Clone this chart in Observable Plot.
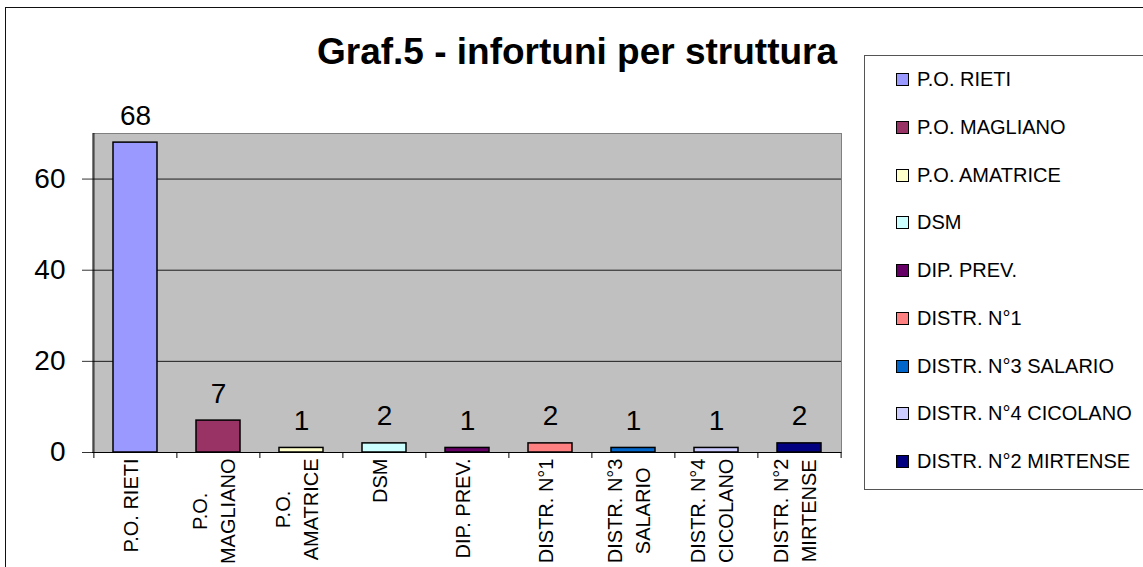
<!DOCTYPE html>
<html><head><meta charset="utf-8">
<script src="https://cdn.jsdelivr.net/npm/d3@7"></script>
<script src="https://cdn.jsdelivr.net/npm/@observablehq/plot@0.6"></script>
<style>
html,body{margin:0;padding:0;background:#fff;}
#wrap{position:relative;width:1143px;height:567px;overflow:hidden;font-family:"Liberation Sans",Arial,sans-serif;color:#000;}
#border{position:absolute;left:5px;top:7px;width:1300px;height:800px;border:1.5px solid #111;box-sizing:border-box;}
#title{position:absolute;top:33px;left:577px;transform:translateX(-50%);font-weight:bold;font-size:37px;line-height:1;white-space:nowrap;}
#chart{position:absolute;left:0;top:0;}
#legend{position:absolute;left:864px;top:55px;width:400px;height:435px;border:1.5px solid #555;box-sizing:border-box;background:#fff;}
.item{position:absolute;left:31px;height:20px;display:flex;align-items:center;font-size:20px;white-space:nowrap;}
.sw{width:11px;height:11px;border:1px solid #000;margin-right:8px;flex:none;}
</style></head>
<body><div id="wrap"><div id="border"></div><div id="title"></div><div id="chart"></div><div id="legend"></div></div>
<script>
const titleText = "Graf.5 - infortuni per struttura";
const categories = ["P.O. RIETI","P.O. MAGLIANO","P.O. AMATRICE","DSM","DIP. PREV.","DISTR. N°1","DISTR. N°3 SALARIO","DISTR. N°4 CICOLANO","DISTR. N°2 MIRTENSE"];
const axisLabels = ["P.O. RIETI","P.O.\nMAGLIANO","P.O.\nAMATRICE","DSM","DIP. PREV.","DISTR. N°1","DISTR. N°3\nSALARIO","DISTR. N°4\nCICOLANO","DISTR. N°2\nMIRTENSE"];
const values = [68,7,1,2,1,2,1,1,2];
const colors = ["#9999FF","#993366","#FFFFCC","#CCFFFF","#660066","#FF8080","#0066CC","#CCCCFF","#000080"];
const yTicks = [0,20,40,60];
const yDomain = [0,70];

const data = categories.map((c,i)=>({cat:c, value:values[i], label:axisLabels[i]}));

const W = 860, H = 567, ml = 92, mr = 19, mt = 133, mb = 115;
const step = (W - ml - mr) / categories.length;
const font = "'Liberation Sans', Arial, sans-serif";

const svg = Plot.plot({
  width: W, height: H,
  marginLeft: ml, marginRight: mr, marginTop: mt, marginBottom: mb,
  style: {fontFamily: font, background: "transparent", color: "#000", overflow: "hidden"},
  x: {domain: categories, paddingInner: 0.47, paddingOuter: 0.22, axis: null},
  y: {domain: yDomain, axis: null},
  color: {domain: categories, range: colors},
  marks: [
    Plot.frame({fill: "#C0C0C0", stroke: "#808080"}),
    Plot.ruleY(yTicks.filter(d=>d>0), {stroke: "#1a1a1a", strokeWidth: 1}),
    Plot.axisY({ticks: yTicks, label: null, tickSize: 10, tickPadding: 17, fontSize: 28, stroke: "#333"}),
    Plot.ruleX([categories[0]], {x: d=>d, dx: -step/2, y1: yDomain[0], y2: yDomain[1], stroke: "#000"}),
    Plot.ruleX(categories, {x: d=>d, dx: -step/2, y1: 0, y2: 0, insetBottom: -6, stroke: "#000"}),
    Plot.ruleX([categories[categories.length-1]], {x: d=>d, dx: step/2, y1: 0, y2: 0, insetBottom: -6, stroke: "#000"}),
    Plot.barY(data, {x: "cat", y: "value", fill: "cat", stroke: "#000", strokeWidth: 1.5}),
    Plot.ruleY([0], {stroke: "#000", strokeWidth: 1.2}),
    Plot.text(data, {x: "cat", y: "value", text: d=>String(d.value), dy: -18, lineAnchor: "bottom", fontSize: 28, fill: "#000"}),
    Plot.text(data, {x: "cat", y: () => 0, text: "label", rotate: -90, textAnchor: "end", lineAnchor: "middle", dx: -6, dy: 6, fontSize: 20, lineHeight: 1.4, fill: "#000"})
  ]
});
document.getElementById("chart").appendChild(svg);

// center the shorter line of two-line labels on the longer one
d3.select(svg).selectAll("text").each(function(){
  const tspans = d3.select(this).selectAll("tspan").nodes();
  if (tspans.length < 2) return;
  const lens = tspans.map(t => t.getComputedTextLength());
  const m = Math.max(...lens);
  tspans.forEach((t,i) => t.setAttribute("x", -(m - lens[i]) / 2));
});

document.getElementById("title").textContent = titleText;

const legend = d3.select("#legend");
categories.forEach((c,i) => {
  const it = legend.append("div").attr("class","item").style("top", (80 + i*47.75 - 55 - 1.5 - 10) + "px");
  it.append("div").attr("class","sw").style("background", colors[i]);
  it.append("span").text(c);
});
</script>
</body></html>
